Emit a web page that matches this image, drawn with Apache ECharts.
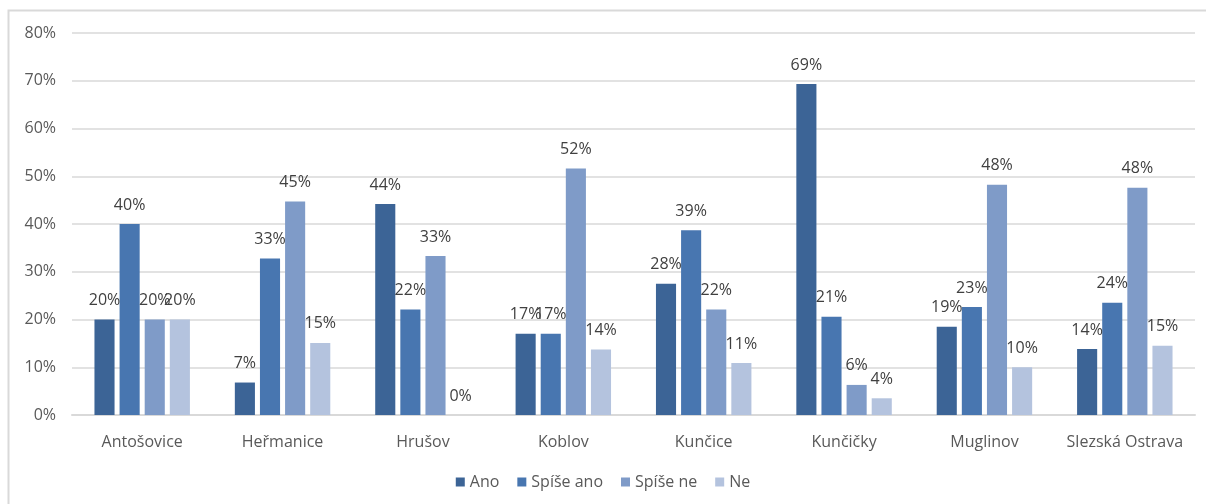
<!DOCTYPE html>
<html>
<head>
<meta charset="utf-8">
<script src="https://cdn.jsdelivr.net/npm/echarts@6/dist/echarts.min.js"></script>
<style>
  html, body { margin: 0; padding: 0; background: #fff; }
  #chart { width: 1206px; height: 504px; }
</style>
</head>
<body>
<div id="chart"></div>
<script>
// obce
var categories = ['Antošovice', 'Heřmanice', 'Hrušov', 'Koblov', 'Kunčice', 'Kunčičky', 'Muglinov', 'Slezská Ostrava']
var seriesNames = ['Ano', 'Spíše ano', 'Spíše ne', 'Ne']
// hodnoty v procentech
var ano = [20, 6.8, 44.2, 17.0, 27.5, 69.3, 18.5, 13.8]
var spiseAno = [40, 32.8, 22.1, 17.0, 38.7, 20.6, 22.6, 23.5]
var spiseNe = [20, 44.7, 33.3, 51.6, 22.1, 6.3, 48.2, 47.6]
var ne = [20, 15.1, 0, 13.7, 10.9, 3.5, 10.0, 14.5]
var colors = ['#3C6496', '#4876B0', '#7F9BC8', '#B4C3DE']

var chart = echarts.init(document.getElementById('chart'))

var font = "'Open Sans', 'Noto Sans', sans-serif"

function makeSeries(name, data, i) {
  return {
    name: name,
    type: 'bar',
    data: data,
    barGap: '25%',
    barCategoryGap: '32%',
    itemStyle: { color: colors[i] },
    label: {
      show: true,
      position: 'top',
      distance: 11,
      color: '#404040',
      fontSize: 16,
      fontFamily: font,
      formatter: function (p) { return Math.round(p.value) + '%' }
    }
  }
}

var option = {
  animation: false,
  textStyle: { fontFamily: font },
  grid: { left: 72, right: 11, top: 33, bottom: 89 },
  graphic: [{
    type: 'rect',
    shape: { x: 8.5, y: 10.5, width: 1210, height: 520 },
    style: { fill: 'none', stroke: '#d9d9d9', lineWidth: 2 },
    silent: true
  }],
  legend: {
    bottom: 9,
    left: 'center',
    itemWidth: 9,
    itemHeight: 9,
    itemGap: 18,
    icon: 'rect',
    textStyle: { color: '#595959', fontSize: 16, fontFamily: font },
    data: seriesNames
  },
  xAxis: {
    type: 'category',
    data: categories,
    axisTick: { show: false },
    axisLine: { lineStyle: { color: '#d9d9d9', width: 2 } },
    axisLabel: { color: '#595959', fontSize: 16, margin: 19, interval: 0, fontFamily: font }
  },
  yAxis: {
    type: 'value',
    min: 0,
    max: 80,
    interval: 10,
    axisLine: { show: false },
    axisTick: { show: false },
    splitLine: { lineStyle: { color: '#d9d9d9', width: 1.5 } },
    axisLabel: { color: '#595959', fontSize: 16, margin: 16, fontFamily: font, formatter: '{value}%' }
  },
  series: [
    makeSeries(seriesNames[0], ano, 0),
    makeSeries(seriesNames[1], spiseAno, 1),
    makeSeries(seriesNames[2], spiseNe, 2),
    makeSeries(seriesNames[3], ne, 3)
  ]
}

chart.setOption(option)
</script>
</body>
</html>
